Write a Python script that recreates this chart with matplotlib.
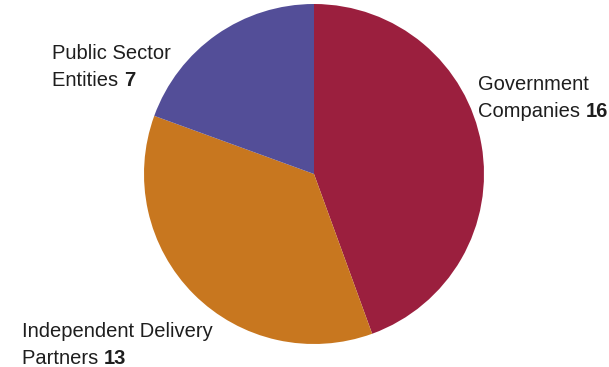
import matplotlib
matplotlib.use("Agg")
import matplotlib.pyplot as plt

# Share of organisations by type
labels = ["Government\nCompanies", "Independent Delivery\nPartners", "Public Sector\nEntities"]
counts = [16, 13, 7]
colors = ["#9b1f3e", "#c8771f", "#534e98"]

W, H = 609, 367
plt.rcParams["font.family"] = ["Liberation Sans", "DejaVu Sans"]

fig = plt.figure(figsize=(W / 100, H / 100), dpi=100)
ax = fig.add_axes([0, 0, 1, 1])

# pie centre and radius in pixel units (y measured from the top)
cx, cy, r = 314, 174, 170
ax.pie(counts, colors=colors, startangle=90, counterclock=False,
       center=(cx, H - cy), radius=r, frame=True,
       wedgeprops=dict(linewidth=0))
ax.set_xlim(0, W)
ax.set_ylim(0, H)
ax.set_aspect("equal")
ax.axis("off")

# label anchor: left x and baseline of first line (from the top)
anchors = [(478, 90), (22, 337), (52, 59)]
line_gap = 27
fs = 14.5
txt_col = "#1e1e1e"

renderer = fig.canvas.get_renderer()
for lab, n, (x, y) in zip(labels, counts, anchors):
    first, second = lab.split("\n")
    ax.text(x, H - y, first, fontsize=fs, color=txt_col, va="baseline", ha="left")
    t = ax.text(x, H - y - line_gap, second + " ", fontsize=fs, color=txt_col,
                va="baseline", ha="left")
    bb = t.get_window_extent(renderer=renderer)
    x_end = ax.transData.inverted().transform((bb.x1, bb.y0))[0]
    ax.text(x_end, H - y - line_gap, str(n), fontsize=fs, color=txt_col,
            fontweight="bold", va="baseline", ha="left")

fig.savefig("out.png", dpi=100)
